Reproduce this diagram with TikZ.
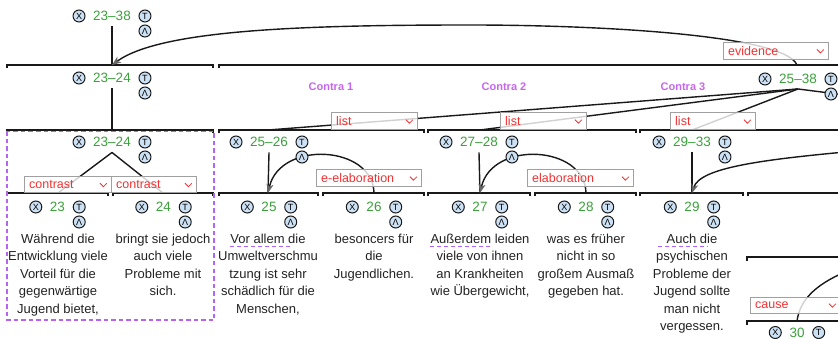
\documentclass[tikz,border=0pt]{standalone}
\usepackage{fontspec}
\setmainfont{Liberation Sans}
\usetikzlibrary{arrows.meta,backgrounds}
\definecolor{rstgreen}{RGB}{60,160,60}
\definecolor{rstred}{RGB}{240,50,50}
\definecolor{contrapurple}{RGB}{200,100,240}
\definecolor{dashpurple}{RGB}{180,100,240}
\definecolor{iconblue}{RGB}{205,225,245}
\definecolor{boxgray}{RGB}{160,160,160}
\definecolor{inkblack}{RGB}{25,25,25}
\definecolor{txtgray}{RGB}{34,34,34}

\newcommand\rstlab[3]{%
  \node[numtxt] (#1) at #2 {#3};
  \node[icon] (#1x) at ([xshift=-14pt]#1.west) {X};
  \node[icon] (#1t) at ([xshift=14pt]#1.east) {T};
  \node[icon] (#1a) at ([xshift=14pt,yshift=-15pt]#1.east) {Λ};
}
\newcommand\ddbox[5]{% name, top-left, width, height, text
  \node[ddframe, anchor=north west, minimum width=#3pt, minimum height=#4pt] (#1) at #2 {};
  \node[ddtext] (#1l) at ([xshift=5pt]#1.west) {#5};
  \draw[chev] ([shift={(-12pt,1.5pt)}]#1.east) -- ([shift={(-8.5pt,-2pt)}]#1.east) -- ([shift={(-5pt,1.5pt)}]#1.east);
}
\newcommand\brk[3]{\draw[brk] (#1,#3+3.5) -- (#1,#3) -- (#2,#3) -- (#2,#3+3.5);}

\begin{document}
\begin{tikzpicture}[x=1pt,y=-1pt,
  numtxt/.style={inner sep=0pt, text=rstgreen, font=\fontsize{13.5}{13.5}\selectfont},
  icon/.style={circle, draw=inkblack, fill=iconblue, minimum size=12pt, inner sep=0pt, line width=1pt, font=\fontsize{9}{9}\selectfont},
  ddframe/.style={draw=boxgray, fill=white, fill opacity=0.8, line width=0.9pt, inner sep=0pt},
  ddtext/.style={anchor=west, inner sep=0pt, text=rstred, font=\fontsize{12.5}{12.5}\selectfont},
  chev/.style={draw=rstred, line width=0.8pt},
  brk/.style={draw=inkblack, line width=1.3pt},
  conn/.style={draw=inkblack, line width=1.4pt},
  arr/.style={-{Stealth[length=9pt,width=7pt,inset=2.5pt,color=gray!80!black,fill=gray!55]}},
  txt/.style={anchor=north, inner sep=0pt, align=center, text=txtgray, font=\fontsize{13}{17.5}\selectfont},
  contra/.style={inner sep=0pt, text=contrapurple, font=\bfseries\fontsize{11}{11}\selectfont},
  uline/.style={draw=dashpurple, line width=1.2pt, dash pattern=on 4pt off 3pt},
  dbox/.style={draw=dashpurple, line width=1.3pt, dash pattern=on 4.5pt off 3pt}]
\useasboundingbox (0,0) rectangle (838,339);

% labels
\rstlab{La}{(112,16)}{23–38}
\rstlab{Lb}{(112,78)}{23–24}
\rstlab{Lc}{(112,142)}{23–24}
\rstlab{L23}{(57.5,207)}{23}
\rstlab{L24}{(163.5,207)}{24}
\rstlab{Ld}{(798,79)}{25–38}
\rstlab{Le}{(269,142)}{25–26}
\rstlab{L25}{(269,207)}{25}
\rstlab{L26}{(374,207)}{26}
\rstlab{Lf}{(479,142)}{27–28}
\rstlab{L27}{(480,207)}{27}
\rstlab{L28}{(586,207)}{28}
\rstlab{Lg}{(692,142)}{29–33}
\rstlab{L29}{(692,207)}{29}
\rstlab{L30}{(797,332.5)}{30}

% attachment points
\coordinate (Ba) at (112,65);
\coordinate (Bd) at (797,65);
\coordinate (Bb) at (112,130);
\coordinate (B23) at (58,193);
\coordinate (B24) at (163,193);
\coordinate (Be) at (268,130);
\coordinate (Bf) at (480,130);
\coordinate (Bg) at (692,130);
\coordinate (Bh) at (845,95);
\coordinate (B25) at (268,193);
\coordinate (B26) at (374,193);
\coordinate (B27) at (480,193);
\coordinate (B28) at (586,193);
\coordinate (B29) at (692,193);
\coordinate (B29in) at (845,152);
\coordinate (B30) at (797,321);
\coordinate (B30out) at (845,272);
\coordinate (Dj) at ([yshift=-5pt]Ld.south);

\begin{scope}[on background layer]
  % brackets
  \brk{7}{213}{65}
  \brk{219}{850}{65}
  \brk{7}{213}{130}
  \brk{219}{424}{130}
  \brk{428}{636}{130}
  \brk{640}{850}{130}
  \brk{7}{108}{193}
  \brk{113}{213}{193}
  \brk{219}{318}{193}
  \brk{323}{424}{193}
  \brk{428}{530}{193}
  \brk{535}{636}{193}
  \brk{640}{743}{193}
  \brk{748}{850}{193}
  \brk{747}{850}{257}
  \brk{747}{850}{321}
  \draw[dbox] (7,131.5) rectangle (214,320);
  % connectors
  \draw[conn] ([yshift=-5.5pt]La.south) -- (Ba);
  \draw[conn,arr] (Bd) .. controls (785,35) and (600,25) .. (470,25) .. controls (300,25) and (160,30) .. (Ba);
  \draw[conn] ([yshift=-5.5pt]Lb.south) -- (Bb);
  \draw[conn] ([yshift=-5.5pt]Lc.south) -- (B23);
  \draw[conn] ([yshift=-5.5pt]Lc.south) -- (B24);
  \draw[conn] (Dj) -- (Be);
  \draw[conn] (Dj) -- (Bf);
  \draw[conn] (Dj) -- (Bg);
  \draw[conn] (Dj) -- (Bh);
  \draw[conn] ([yshift=-5.5pt]Le.south) -- (B25);
  \draw[conn,arr] (B26) .. controls (373,145) and (280,140) .. (B25);
  \draw[conn] ([yshift=-5.5pt]Lf.south) -- (B27);
  \draw[conn,arr] (B28) .. controls (585,145) and (492,140) .. (B27);
  \draw[conn] ([yshift=-5.5pt]Lg.south) -- (B29);
  \draw[conn,arr] (B29in) .. controls (760,160) and (700,168) .. (B29);
  \draw[conn] (B30out) .. controls (815,285) and (800,300) .. (B30);
  % underlines
  \draw[uline] (230,246.5) -- (290,246.5);
  \draw[uline] (430,246.5) -- (490,246.5);
  \draw[uline] (658,246.5) -- (708,246.5);
\end{scope}

% relation boxes
\ddbox{Rev}{(723,42)}{105}{17}{evidence}
\ddbox{Rl1}{(331,112.5)}{86}{16.5}{list}
\ddbox{Rl2}{(500,112.5)}{86}{16.5}{list}
\ddbox{Rl3}{(670,112.5)}{85}{16.5}{list}
\ddbox{Rc1}{(24,176)}{87}{16.5}{contrast}
\ddbox{Rc2}{(111,176)}{85}{16.5}{contrast}
\ddbox{Ree}{(316,169.5)}{105}{16.5}{e-elaboration}
\ddbox{Rel}{(527,169.5)}{106}{16.5}{elaboration}
\ddbox{Rca}{(750,296.5)}{90}{16.5}{cause}

% section titles
\node[contra] (C1) at (331,86.5) {Contra 1};
\node[contra] (C2) at (504,86.5) {Contra 2};
\node[contra] (C3) at (683,86.5) {Contra 3};

% texts
\node[txt] (T23) at (58,233) {\rule{0pt}{10pt}Während die\\Entwicklung viele\\Vorteil für die\\gegenwärtige\\Jugend bietet,};
\node[txt] (T24) at (163,233) {\rule{0pt}{10pt}bringt sie jedoch\\auch viele\\Probleme mit\\sich.};
\node[txt] (T25) at (268,233) {\rule{0pt}{10pt}Vor allem die\\Umweltverschmu\\tzung ist sehr\\schädlich für die\\Menschen,};
\node[txt] (T26) at (374,233) {\rule{0pt}{10pt}besoncers für\\die\\Jugendlichen.};
\node[txt] (T27) at (480,233) {\rule{0pt}{10pt}Außerdem leiden\\viele von ihnen\\an Krankheiten\\wie Übergewicht,};
\node[txt] (T28) at (586,233) {\rule{0pt}{10pt}was es früher\\nicht in so\\großem Ausmaß\\gegeben hat.};
\node[txt] (T29) at (692,233) {\rule{0pt}{10pt}Auch die\\psychischen\\Probleme der\\Jugend sollte\\man nicht\\vergessen.};
\end{tikzpicture}
\end{document}
